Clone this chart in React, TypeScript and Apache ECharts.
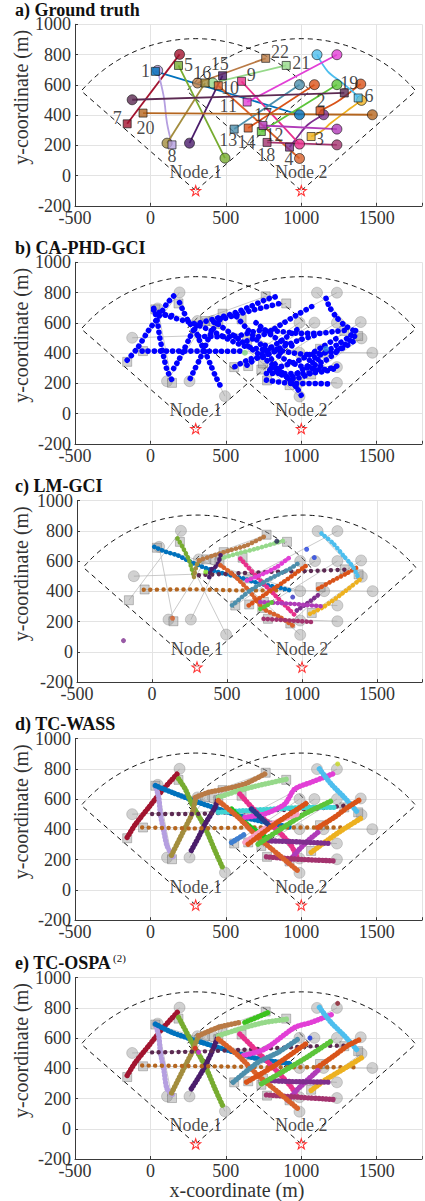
import React, { useEffect, useRef } from 'react';
import * as echarts from 'echarts';

const FONT = 'Liberation Serif';

// ---------- layout constants ----------
const panelTitles = ['a) Ground truth', 'b) CA-PHD-GCI', 'c) LM-GCI', 'd) TC-WASS', 'e) TC-OSPA'];
const panelTops = [24.3, 262.3, 500.7, 738.7, 977.5];
const panelLefts = [75, 75, 77, 75, 75];
const xMin = -500, xMax = 1800, xStep = 500;
const yMin = -200, yMax = 1000, yStep = 200;

// ---------- sensor nodes ----------
const nodes = [[300, -100], [1000, -100]];
const nodeNames = ['Node 1', 'Node 2'];
const nodeLabelPos = [[300, 22], [1000, 22]];
const fovRadius = 1005;
const fovHalfDeg = 49;

// ---------- ground truth (start = square, end = circle) ----------
const trackColors = [
  '#0072BD', '#D95319', '#EDB120', '#7E2F8E', '#77AC30', '#4DBEEE', '#A2142F', '#B59FE0',
  '#E8308C', '#D9622B', '#E23FD6', '#5CC53A', '#4D8FAC', '#D95319', '#4B1D6B', '#A38D3E',
  '#B03BB8', '#A3336E', '#5C2A52', '#B5661F', '#96D98A', '#B97A45',
];
const gtTracks: number[][][] = [
  [[33, 689], [988, 402]],
  [[1124, 428], [1240, 490], [1317, 546], [1394, 605]],
  [[1065, 258], [1131, 291], [1196, 347], [1328, 446], [1399, 497]],
  [[922, 188], [977, 258], [1043, 336], [1148, 402]],
  [[186, 728], [494, 115]],
  [[1377, 513], [1350, 546], [1273, 612], [1175, 689], [1104, 799]],
  [[-154, 342], [193, 801]],
  [[143, 203], [110, 347], [88, 523], [48, 695]],
  [[604, 623], [988, 208]],
  [[450, 594], [988, 113]],
  [[641, 486], [1236, 799]],
  [[735, 291], [1236, 601]],
  [[555, 307], [988, 601]],
  [[648, 314], [1087, 601]],
  [[478, 660], [259, 214]],
  [[362, 612], [110, 214]],
  [[746, 331], [1236, 307]],
  [[773, 219], [1236, 203]],
  [[1285, 546], [-121, 501]],
  [[-49, 413], [1471, 402]],
  [[900, 728], [413, 612]],
  [[764, 775], [312, 612]],
];
const trackLabelPos: number[][] = [
  [-33, 689], [1131, 490], [1120, 241], [918, 108], [252, 733], [1449, 523], [-220, 380],
  [143, 126], [669, 667], [527, 579], [516, 457], [823, 270], [516, 236], [636, 225],
  [460, 738], [344, 680], [746, 402], [768, 137], [1317, 612], [-33, 314], [999, 744], [858, 815],
];

// ---------- b) CA-PHD-GCI estimates ----------
const estB: number[][][] = [
  [[-154, 353], [-88, 430], [-11, 552], [55, 640], [110, 728], [154, 777]],
  [[-55, 413], [100, 413], [264, 413], [450, 412], [615, 413]],
  [[22, 695], [44, 618], [61, 508], [88, 375], [110, 287], [143, 221]],
  [[99, 651], [176, 645]],
  [[193, 733], [220, 673], [253, 607], [296, 552], [329, 475], [362, 408], [395, 331], [428, 254], [461, 188]],
  [[154, 298], [187, 353], [220, 419], [253, 486], [285, 552], [329, 607]],
  [[264, 232], [296, 298], [329, 364], [362, 442], [395, 519], [439, 596], [483, 651]],
  [[22, 684], [130, 640], [285, 596], [417, 541], [549, 475], [637, 442], [760, 420], [870, 400]],
  [[330, 600], [439, 630], [549, 662], [659, 706], [769, 755], [834, 773]],
  [[420, 605], [560, 650], [681, 684], [769, 706], [878, 733]],
  [[571, 640], [637, 563], [725, 464], [791, 375], [857, 287], [923, 221], [988, 155]],
  [[1164, 762], [1186, 706], [1230, 640], [1285, 585], [1362, 541]],
  [[640, 480], [769, 530], [878, 596], [988, 662], [1087, 717]],
  [[320, 510], [538, 508], [747, 552], [878, 541], [988, 530], [1120, 530], [1208, 541], [1307, 552]],
  [[1054, 353], [1164, 408], [1252, 464], [1318, 508], [1384, 574]],
  [[560, 310], [660, 360], [747, 375], [878, 442], [988, 486], [1100, 520]],
  [[1054, 309], [1164, 353], [1274, 442], [1362, 519]],
  [[769, 221], [944, 199], [1098, 199], [1208, 194]],
  [[769, 265], [988, 265], [1142, 276], [1230, 300]],
  [[944, 243], [1032, 309], [1120, 364]],
  [[450, 590], [600, 480], [760, 360], [878, 265], [966, 177], [999, 121]],
  [[791, 287], [988, 353], [1142, 442], [1252, 508]],
  [[640, 320], [750, 400], [880, 490], [980, 560]],
  [[800, 300], [880, 250], [950, 230], [1050, 260], [1150, 330]],
  [[850, 380], [950, 330], [1050, 300], [1150, 290], [1250, 320]],
  [[760, 450], [850, 420], [950, 400], [1050, 390], [1150, 400], [1250, 420], [1350, 480]],
  [[700, 600], [800, 520], [880, 470], [960, 440]],
];
const estBDots = [[626, 402], [1164, 428]];
const estBDotColors = ['#7FD37F', '#3A8FE0'];

// ---------- c) LM-GCI estimates ----------
const estC: number[][][] = [
  [[15, 695], [93, 662], [170, 639], [258, 595], [369, 551], [479, 518], [611, 485], [722, 451], [832, 429], [921, 407]],
  [[170, 750], [203, 695], [247, 606], [280, 496]],
  [[280, 496], [302, 584], [336, 617]],
  [[313, 606], [413, 639], [523, 673], [634, 706], [766, 772]],
  [[457, 617], [567, 650], [700, 684], [887, 739]],
  [[457, 639], [435, 573], [391, 540], [380, 473]],
  [[313, 507], [523, 518], [788, 529], [1053, 535], [1285, 544]],
  [[-55, 411], [258, 414], [589, 407], [843, 407]],
  [[589, 617], [700, 496], [810, 385], [921, 274], [965, 230]],
  [[457, 573], [545, 507], [645, 407], [744, 286], [854, 230], [954, 164]],
  [[634, 473], [744, 518], [832, 562], [921, 628]],
  [[534, 308], [656, 407], [788, 485], [921, 551], [987, 595]],
  [[645, 308], [744, 374], [876, 462], [1031, 573]],
  [[1108, 418], [1208, 473], [1296, 518], [1373, 562]],
  [[1053, 252], [1141, 296], [1252, 374], [1395, 485]],
  [[1130, 783], [1208, 717], [1274, 639], [1340, 562], [1373, 496]],
  [[965, 274], [1031, 319], [1119, 385]],
  [[722, 330], [921, 319], [1141, 301]],
  [[744, 219], [921, 208], [1075, 197]],
  [[722, 285], [766, 308], [821, 341]],
];
const estCColors = [
  '#0072BD', '#77AC30', '#A38D3E', '#B97A45', '#96D98A', '#4B1D6B', '#5C2A52', '#B5661F',
  '#E8308C', '#D9622B', '#E23FD6', '#4D8FAC', '#D95319', '#D95319', '#EDB120', '#4DBEEE',
  '#7E2F8E', '#B03BB8', '#A3336E', '#5CC53A',
];
const estCSparse = [6, 7];
const estCDots = [[-190, 75], [1031, 679], [1082, 624], [938, 363], [832, 732], [137, 223], [358, 529]];
const estCDotColors = ['#7E2F8E', '#2040E0', '#2040E0', '#3030C0', '#202050', '#D9622B', '#80E020'];

// ---------- d) TC-WASS estimates ----------
const estD: number[][][] = [
  [[-154, 347], [-99, 435], [-11, 546], [77, 656], [187, 778]],
  [[33, 690], [55, 612], [66, 502], [88, 391], [110, 292], [154, 214]],
  [[33, 690], [143, 645], [318, 579], [450, 535], [626, 480], [824, 435], [934, 413]],
  [[187, 734], [231, 667], [275, 568], [362, 413], [428, 259], [483, 137]],
  [[297, 590], [275, 502], [231, 413], [176, 303], [132, 214]],
  [[450, 612], [428, 546], [362, 435], [318, 347], [264, 248]],
  [[297, 612], [384, 645], [494, 667], [626, 701], [758, 767]],
  [[450, 612], [582, 656], [714, 690], [911, 734]],
  [[11, 502], [275, 502], [714, 524], [1065, 535], [1285, 557]],
  [[-55, 413], [275, 407], [714, 413], [1285, 413]],
  [[450, 513], [626, 524], [1087, 546], [1219, 546]],
  [[538, 535], [626, 446], [714, 380], [802, 325]],
  [[593, 634], [714, 502], [846, 391], [934, 292], [978, 203]],
  [[626, 480], [758, 502], [890, 568], [956, 667], [1065, 712], [1208, 767]],
  [[1120, 800], [1197, 701], [1285, 612], [1373, 513]],
  [[1109, 413], [1219, 480], [1307, 546], [1395, 601]],
  [[1066, 248], [1153, 314], [1263, 391], [1406, 480]],
  [[912, 181], [978, 259], [1043, 325], [1109, 380]],
  [[758, 325], [934, 320], [1197, 307]],
  [[769, 219], [978, 203], [1219, 192]],
  [[450, 590], [582, 480], [714, 347], [846, 236], [978, 126]],
  [[714, 303], [846, 391], [1021, 502], [1202, 590]],
  [[538, 314], [626, 369]],
  [[626, 314], [802, 435], [978, 502]],
  [[670, 535], [802, 413]],
  [[648, 303], [824, 435], [1043, 579]],
];
const estDColors = [
  '#A2142F', '#B59FE0', '#0072BD', '#77AC30', '#A38D3E', '#4B1D6B', '#B97A45', '#96D98A',
  '#5C2A52', '#B5661F', '#3FD3D3', '#19C419', '#E8308C', '#E23FD6', '#4DBEEE', '#D95319',
  '#EDB120', '#B03BB8', '#7E2F8E', '#A3336E', '#D9622B', '#5CC53A', '#3F7FD0', '#F7A1C4',
  '#283C8C', '#D95319',
];
const estDSparse = [8, 9];
const estDDots = [[1241, 833]];
const estDDotColors = ['#C8D820'];

// ---------- e) TC-OSPA(2) estimates ----------
const estE: number[][][] = [
  [[-154, 352], [-99, 440], [-11, 549], [77, 659], [187, 780]],
  [[33, 692], [55, 615], [66, 505], [88, 396], [110, 264], [154, 220]],
  [[33, 692], [143, 637], [340, 571], [560, 505], [714, 462], [934, 429]],
  [[187, 736], [275, 571], [362, 418], [428, 264], [483, 143]],
  [[319, 615], [275, 505], [231, 418], [132, 220]],
  [[450, 615], [406, 505], [340, 374], [264, 253]],
  [[319, 615], [450, 670], [593, 703]],
  [[626, 703], [782, 769]],
  [[450, 615], [626, 670], [758, 703], [911, 725]],
  [[11, 505], [319, 510], [714, 527], [1065, 545], [1285, 549]],
  [[-55, 418], [384, 413], [824, 407], [1351, 407]],
  [[593, 626], [714, 505], [824, 396], [934, 275], [978, 198]],
  [[615, 484], [758, 527], [956, 670], [1065, 703], [1208, 758]],
  [[1120, 802], [1197, 703], [1285, 615], [1373, 516]],
  [[1109, 407], [1219, 484], [1307, 549], [1395, 593]],
  [[1066, 253], [1153, 319], [1263, 385], [1406, 473]],
  [[912, 187], [978, 264], [1109, 385]],
  [[780, 319], [934, 312], [1197, 308]],
  [[769, 224], [978, 209], [1219, 193]],
  [[450, 593], [582, 484], [714, 352], [846, 242], [978, 132]],
  [[736, 297], [890, 385], [1043, 477], [1202, 582]],
  [[549, 308], [714, 440], [846, 505], [978, 593]],
  [[637, 308], [824, 418], [1043, 571]],
];
const estEColors = [
  '#A2142F', '#B59FE0', '#0072BD', '#77AC30', '#A38D3E', '#4B1D6B', '#B97A45', '#3CC21E',
  '#96D98A', '#5C2A52', '#B5661F', '#E8308C', '#E23FD6', '#4DBEEE', '#D95319', '#EDB120',
  '#B03BB8', '#7E2F8E', '#A3336E', '#D9622B', '#5CC53A', '#4D8FAC', '#D95319',
];
const estESparse = [9, 10];
const estEDots = [[1241, 829], [1057, 600], [297, 532], [319, 505]];
const estEDotColors = ['#8B1A2B', '#1030E0', '#E02020', '#E040E0'];

const STAR = 'path://M0,-10L2.35,-3.24L9.51,-3.09L3.8,1.24L5.88,8.09L0,4L-5.88,8.09L-3.8,1.24L-9.51,-3.09L-2.35,-3.24Z';

function sectorPoints(node: number[]) {
  const pts: number[][] = [node];
  for (let a = 90 + fovHalfDeg; a >= 90 - fovHalfDeg - 0.001; a -= 1) {
    const r = (a * Math.PI) / 180;
    pts.push([node[0] + fovRadius * Math.cos(r), node[1] + fovRadius * Math.sin(r)]);
  }
  pts.push(node);
  return pts;
}

function buildOption() {
  const series: any[] = [];
  const ax = (i: number) => ({ xAxisIndex: i, yAxisIndex: i });

  panelTops.forEach((_, i) => {
    nodes.forEach((nd) => {
      series.push({
        type: 'line', ...ax(i), data: sectorPoints(nd), showSymbol: false, silent: true,
        lineStyle: { color: '#111', width: 1, type: [5, 4] }, z: 2,
      });
    });

    if (i === 0) {
      gtTracks.forEach((pts, k) => {
        series.push({
          type: 'line', ...ax(i), data: pts, showSymbol: false, smooth: pts.length > 2 ? 0.35 : false,
          lineStyle: { color: trackColors[k], width: 1.8 }, z: 3,
        });
      });
      series.push({
        type: 'scatter', ...ax(i), symbol: 'rect', symbolSize: 8, z: 5,
        data: gtTracks.map((pts, k) => ({ value: pts[0], itemStyle: { color: trackColors[k] } })),
        itemStyle: { borderColor: '#111', borderWidth: 0.8 },
      });
      series.push({
        type: 'scatter', ...ax(i), symbol: 'circle', symbolSize: 10, z: 4,
        data: gtTracks.map((pts, k) => ({ value: pts[pts.length - 1], itemStyle: { color: trackColors[k] } })),
        itemStyle: { borderColor: '#111', borderWidth: 0.8 },
      });
      series.push({
        type: 'scatter', ...ax(i), symbolSize: 1, z: 6, silent: true,
        itemStyle: { color: 'rgba(0,0,0,0)' },
        data: trackLabelPos.map((p, k) => [p[0], p[1], String(k + 1)]),
        label: {
          show: true, position: 'inside', formatter: (p: any) => p.value[2],
          fontFamily: FONT, fontSize: 18, color: '#1a1a1a',
        },
      });
    } else {
      gtTracks.forEach((pts) => {
        series.push({
          type: 'line', ...ax(i), data: [pts[0], pts[pts.length - 1]], showSymbol: false,
          lineStyle: { color: '#bdbdbd', width: 0.8 }, z: 3,
        });
      });
      series.push({
        type: 'scatter', ...ax(i), symbol: 'circle', symbolSize: 11, z: 3,
        data: gtTracks.map((pts) => pts[pts.length - 1]),
        itemStyle: { color: 'rgba(150,150,150,0.55)', borderColor: 'rgba(110,110,110,0.45)', borderWidth: 0.8 },
      });
      series.push({
        type: 'scatter', ...ax(i), symbol: 'rect', symbolSize: 9, z: 3,
        data: gtTracks.map((pts) => pts[0]),
        itemStyle: { color: 'rgba(150,150,150,0.55)', borderColor: 'rgba(90,90,90,0.55)', borderWidth: 0.8 },
      });

      let tracks: number[][][] = [];
      let colors: string[] = [];
      let sparse: number[] = [];
      let dots: number[][] = [];
      let dotColors: string[] = [];
      let w = 5, gap = 4;
      if (i === 1) { tracks = estB; colors = estB.map(() => '#0000FF'); dots = estBDots; dotColors = estBDotColors; w = 5.6; gap = 6; }
      if (i === 2) { tracks = estC; colors = estCColors; sparse = estCSparse; dots = estCDots; dotColors = estCDotColors; w = 4.6; gap = 4.2; }
      if (i === 3) { tracks = estD; colors = estDColors; sparse = estDSparse; dots = estDDots; dotColors = estDDotColors; w = 5.4; gap = 3.4; }
      if (i === 4) { tracks = estE; colors = estEColors; sparse = estESparse; dots = estEDots; dotColors = estEDotColors; w = 5.4; gap = 3.4; }
      tracks.forEach((pts, k) => {
        const sp = sparse.indexOf(k) >= 0;
        series.push({
          type: 'line', ...ax(i), data: pts, showSymbol: false, smooth: 0.25,
          lineStyle: { color: colors[k], width: sp ? 4.4 : w, type: [0.1, sp ? 6.5 : gap], cap: 'round' }, z: 4,
        });
      });
      series.push({
        type: 'scatter', ...ax(i), symbolSize: i === 1 ? 6 : 5, z: 4,
        data: dots.map((p, k) => ({ value: p, itemStyle: { color: dotColors[k] } })),
      });
    }

    series.push({
      type: 'scatter', ...ax(i), symbol: STAR, symbolSize: 10, z: 7,
      data: nodes,
      itemStyle: { color: 'rgba(255,255,255,0.9)', borderColor: '#FF0000', borderWidth: 1.1 },
    });
    series.push({
      type: 'scatter', ...ax(i), symbolSize: 1, z: 7, silent: true,
      itemStyle: { color: 'rgba(0,0,0,0)' },
      data: nodeLabelPos.map((p, k) => [p[0], p[1], nodeNames[k]]),
      label: {
        show: true, position: 'inside', formatter: (p: any) => p.value[2],
        fontFamily: FONT, fontSize: 18, color: '#1a1a1a',
      },
    });
  });

  const axisCommon = {
    axisLine: { show: true, onZero: false, lineStyle: { color: '#3a3a3a', width: 1 } },
    axisTick: { show: true, inside: true, length: 3, lineStyle: { color: '#3a3a3a' } },
    splitLine: { show: true, lineStyle: { color: '#e3e3e3', width: 1 } },
  };

  const graphic: any[] = [];
  panelTops.forEach((t, i) => {
    graphic.push({
      type: 'text', x: 15, y: t - 14.5,
      style: { text: panelTitles[i], font: `bold 18px ${FONT}`, fill: '#111', align: 'left', verticalAlign: 'middle' },
    });
    graphic.push({
      type: 'text', x: 21, y: t + 73, rotation: Math.PI / 2,
      style: { text: 'y-coordinate (m)', font: `20px ${FONT}`, fill: '#333', align: 'center', verticalAlign: 'middle' },
    });
  });
  graphic.push({
    type: 'text', x: 113, y: panelTops[4] - 20,
    style: { text: '(2)', font: `11px ${FONT}`, fill: '#111', align: 'left', verticalAlign: 'middle' },
  });
  graphic.push({
    type: 'text', x: 237, y: 1190,
    style: { text: 'x-coordinate (m)', font: `20px ${FONT}`, fill: '#333', align: 'center', verticalAlign: 'middle' },
  });

  return {
    animation: false,
    backgroundColor: '#ffffff',
    grid: panelTops.map((t, i) => ({ left: panelLefts[i], top: t, width: 349, height: 181.5 })),
    xAxis: panelTops.map((_, i) => ({
      type: 'value', gridIndex: i, min: xMin, max: xMax, interval: xStep, ...axisCommon,
      axisLabel: {
        fontFamily: FONT, fontSize: 18, color: '#333', margin: 3,
        formatter: (v: number) => (v > 1750 ? '' : String(v)),
      },
    })),
    yAxis: panelTops.map((_, i) => ({
      type: 'value', gridIndex: i, min: yMin, max: yMax, interval: yStep, ...axisCommon,
      axisLabel: { fontFamily: FONT, fontSize: 18, color: '#333', margin: 4, formatter: (v: number) => String(v) },
    })),
    graphic,
    series,
  };
}

export default function App() {
  const ref = useRef<HTMLDivElement>(null);
  useEffect(() => {
    if (!ref.current) return;
    const chart = echarts.init(ref.current, undefined, { renderer: 'svg' });
    chart.setOption(buildOption() as any);
    return () => chart.dispose();
  }, []);
  return (
    <div
      ref={ref}
      style={{ position: 'fixed', left: 0, top: 0, width: 425, height: 1201, background: '#fff' }}
    />
  );
}
